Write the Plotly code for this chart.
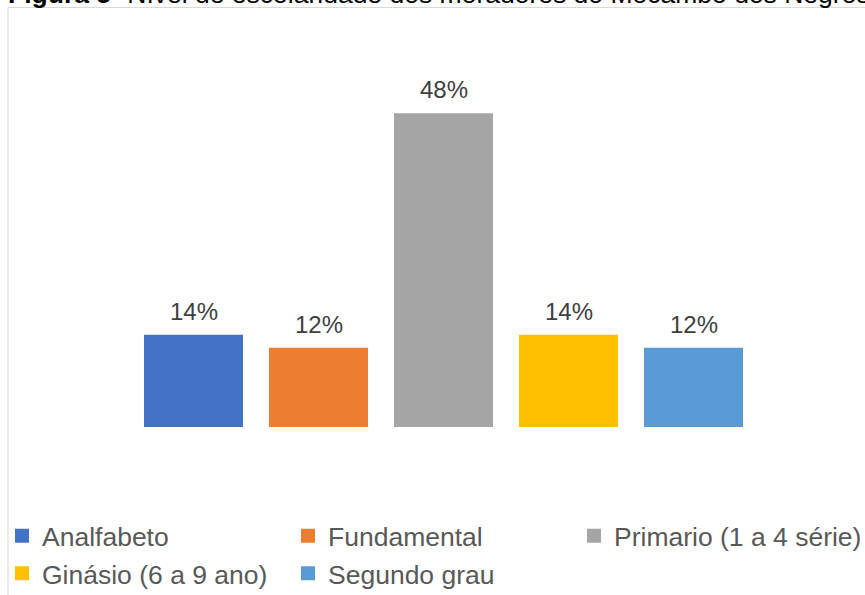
import plotly.graph_objects as go

# Nível de escolaridade dos moradores (percentual)
categorias = ["Analfabeto", "Fundamental", "Primario (1 a 4 série)",
              "Ginásio (6 a 9 ano)", "Segundo grau"]
percentuais = [14, 12, 48, 14, 12]
cores = ["#4472C4", "#ED7D31", "#A5A5A5", "#FFC000", "#5B9BD5"]
rotulos = [f"{v}%" for v in percentuais]

FONTE = "Arial, Liberation Sans, sans-serif"

W, H = 865, 595
ML, MR, MT, MB = 131, 0, 36, 168
plot_w = W - ML - MR
plot_h = H - MT - MB
slot = 125.0  # pixels per category
x_max = -0.5 + plot_w / slot


def px_x(p):
    return (p - ML) / plot_w


def px_y(p):
    return (H - MB - p) / plot_h


fig = go.Figure()
for cat, val, cor in zip(categorias, percentuais, cores):
    fig.add_trace(go.Bar(
        x=[cat], y=[val], name=cat,
        marker=dict(color=cor, line=dict(width=2, color=cor)),
        hoverinfo="skip",
    ))

# Rótulos de valor acima das barras
for cat, val, txt in zip(categorias, percentuais, rotulos):
    fig.add_annotation(
        x=cat, y=val, xref="x", yref="y", text=txt, showarrow=False,
        yanchor="bottom", yshift=9,
        font=dict(family=FONTE, size=24, color="#404040"),
    )

# Título da figura (parcialmente fora da área)
fig.add_annotation(
    xref="paper", yref="paper", x=px_x(6), y=px_y(11),
    xanchor="left", yanchor="bottom", showarrow=False,
    text="<b>Figura 5-</b> Nível de escolaridade dos moradores do Mocambo dos Negros",
    font=dict(family=FONTE, size=26.5, color="#000000"),
)

# Borda da área do gráfico
fig.add_shape(
    type="rect", xref="paper", yref="paper",
    x0=px_x(8), x1=px_x(W + 20), y0=px_y(7.5), y1=px_y(H + 20),
    line=dict(color="#D9D9D9", width=1), fillcolor="rgba(0,0,0,0)",
    layer="below",
)

fig.update_layout(
    width=W, height=H,
    margin=dict(l=ML, r=MR, t=MT, b=MB, pad=0, autoexpand=False),
    paper_bgcolor="white", plot_bgcolor="white",
    barmode="overlay", bargap=0.224,
    showlegend=True,
    legend=dict(
        orientation="h", x=px_x(2), xanchor="left",
        y=px_y(512), yanchor="top",
        entrywidth=241, entrywidthmode="pixels",
        font=dict(family=FONTE, size=26.5, color="#595959"),
        bgcolor="rgba(0,0,0,0)", itemclick=False, itemdoubleclick=False,
        traceorder="normal",
    ),
    xaxis=dict(range=[-0.5, x_max], showticklabels=False, showgrid=False,
               zeroline=False, showline=False, ticks=""),
    yaxis=dict(range=[0, 60], showticklabels=False, showgrid=False,
               zeroline=False, showline=False, ticks=""),
)

fig.write_html("out.html")
